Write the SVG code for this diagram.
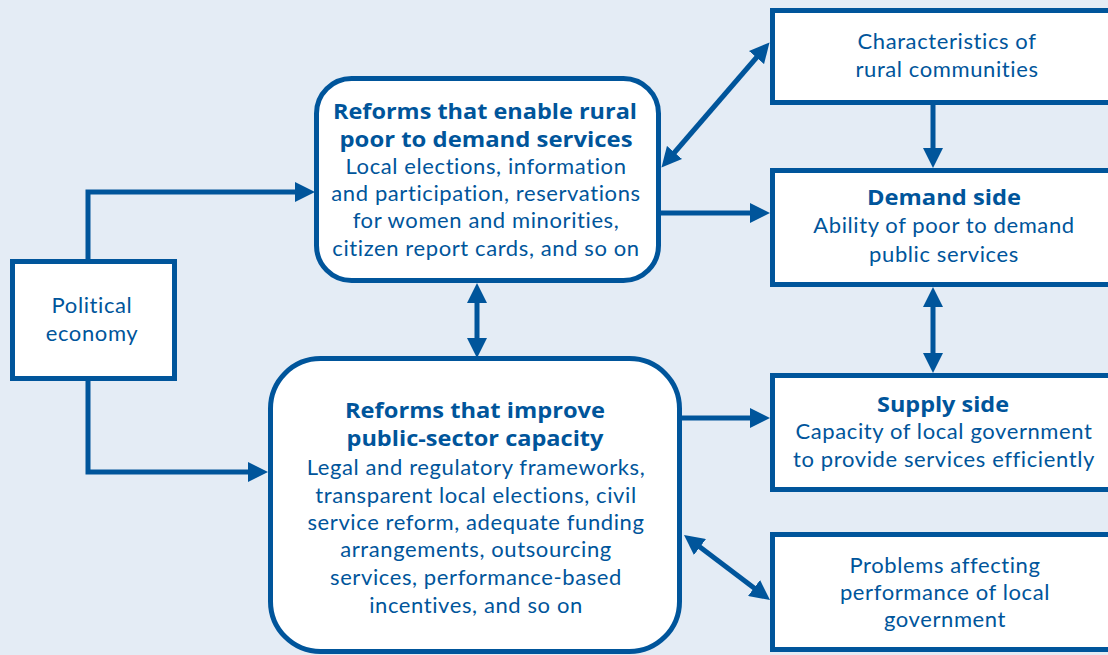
<svg xmlns="http://www.w3.org/2000/svg" width="1108" height="655" viewBox="0 0 1108 655">
<defs>
<style>
.box{fill:#ffffff;stroke:#00559b;stroke-width:5}
.con{fill:none;stroke:#00559b;stroke-width:5}
text{font-family:Lato,"Open Sans","Liberation Sans",sans-serif;font-size:22px;fill:#00559b;text-anchor:middle;letter-spacing:0.6px;font-variant-ligatures:none}
.b{font-family:"Open Sans",Lato,"Liberation Sans",sans-serif;font-weight:bold;font-size:22px;letter-spacing:0}
</style>
<marker id="ah" viewBox="0 0 20 20" refX="10" refY="10" markerWidth="20" markerHeight="20" markerUnits="userSpaceOnUse" orient="auto-start-reverse">
<path d="M0,0 L20,10 L0,20 z" fill="#00559b"/>
</marker>
</defs>
<rect width="1108" height="655" fill="#e4ecf5"/>
<g id="connectors">
<path class="con" d="M88 259 V192 H305" marker-end="url(#ah)"/>
<path class="con" d="M88 381 V472 H258" marker-end="url(#ah)"/>
<path class="con" d="M477 293 V348" marker-start="url(#ah)" marker-end="url(#ah)"/>
<path class="con" d="M668 160 L763 50" marker-start="url(#ah)" marker-end="url(#ah)"/>
<path class="con" d="M661 213 H760" marker-end="url(#ah)"/>
<path class="con" d="M933 105 V158" marker-end="url(#ah)"/>
<path class="con" d="M933 297 V363" marker-start="url(#ah)" marker-end="url(#ah)"/>
<path class="con" d="M682 418 H760" marker-end="url(#ah)"/>
<path class="con" d="M692 541 L762 594" marker-start="url(#ah)" marker-end="url(#ah)"/>
</g>
<g id="political-economy">
<rect class="box" x="12.5" y="261.5" width="162" height="117"/>
<text x="92" y="313">Political</text>
<text x="92" y="341">economy</text>
</g>
<g id="demand-reforms">
<rect class="box" x="316.5" y="78.5" width="342" height="202" rx="35"/>
<text class="b" x="485" y="119" textLength="304" lengthAdjust="spacingAndGlyphs">Reforms that enable rural</text>
<text class="b" x="486" y="147" textLength="293" lengthAdjust="spacingAndGlyphs">poor to demand services</text>
<text x="486" y="174">Local elections, information</text>
<text x="486" y="201">and participation, reservations</text>
<text x="486" y="228">for women and minorities,</text>
<text x="486" y="256">citizen report cards, and so on</text>
</g>
<g id="capacity-reforms">
<rect class="box" x="270.5" y="358.5" width="409" height="293" rx="50"/>
<text class="b" x="475" y="418" textLength="260" lengthAdjust="spacingAndGlyphs">Reforms that improve</text>
<text class="b" x="475" y="446" textLength="257" lengthAdjust="spacingAndGlyphs">public-sector capacity</text>
<text x="476" y="475">Legal and regulatory frameworks,</text>
<text x="476" y="503">transparent local elections, civil</text>
<text x="476" y="530">service reform, adequate funding</text>
<text x="476" y="557">arrangements, outsourcing</text>
<text x="476" y="585">services, performance-based</text>
<text x="476" y="613">incentives, and so on</text>
</g>
<g id="characteristics">
<rect class="box" x="772.5" y="10.5" width="360" height="92"/>
<text x="947" y="49">Characteristics of</text>
<text x="947" y="77">rural communities</text>
</g>
<g id="demand-side">
<rect class="box" x="772.5" y="170.5" width="360" height="114"/>
<text class="b" x="944" y="205" textLength="154" lengthAdjust="spacingAndGlyphs">Demand side</text>
<text x="944" y="233">Ability of poor to demand</text>
<text x="944" y="262">public services</text>
</g>
<g id="supply-side">
<rect class="box" x="772.5" y="375.5" width="360" height="114"/>
<text class="b" x="943" y="412" textLength="132" lengthAdjust="spacingAndGlyphs">Supply side</text>
<text x="944" y="439">Capacity of local government</text>
<text x="944" y="467">to provide services efficiently</text>
</g>
<g id="problems">
<rect class="box" x="772.5" y="534.5" width="360" height="115"/>
<text x="945" y="573">Problems affecting</text>
<text x="945" y="600">performance of local</text>
<text x="945" y="627">government</text>
</g>
</svg>
